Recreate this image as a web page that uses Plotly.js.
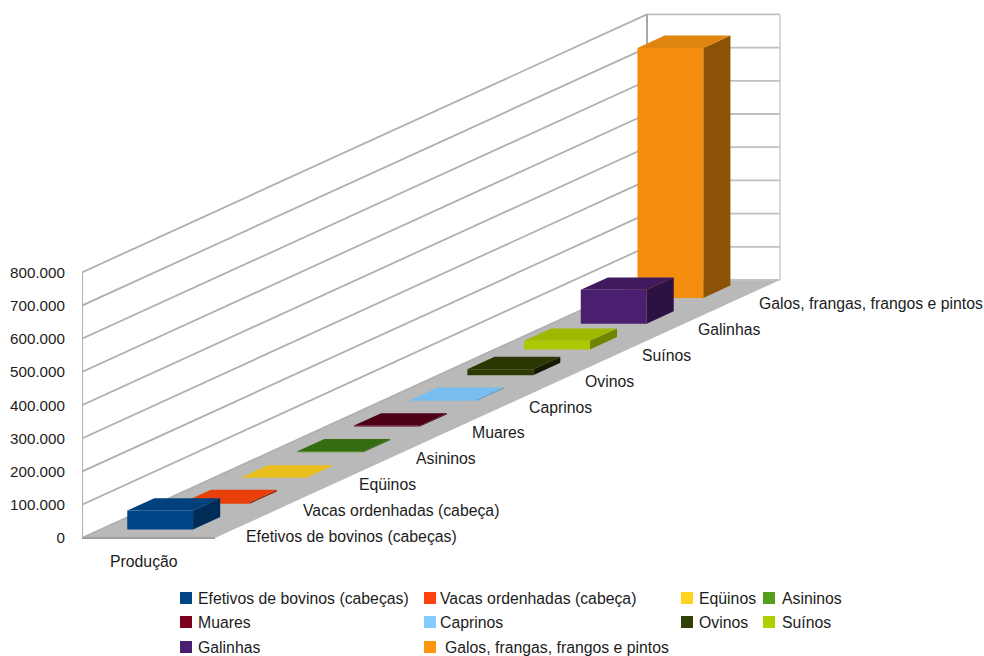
<!DOCTYPE html>
<html>
<head>
<meta charset="utf-8">
<script src="https://cdn.plot.ly/plotly-3.0.1.min.js"></script>
<style>html,body{margin:0;padding:0;background:#fff}#chart{width:984px;height:656px}</style>
</head>
<body>
<div id="chart"></div>
<script>
// Rebanhos por tipo: colunas em pseudo-3D desenhadas sobre eixos cartesianos.
const categories = ['Efetivos de bovinos (cabeças)', 'Vacas ordenhadas (cabeça)', 'Eqüinos', 'Asininos', 'Muares',
  'Caprinos', 'Ovinos', 'Suínos', 'Galinhas', 'Galos, frangas, frangos e pintos'];
const values = [57000, 5000, 1000, 3000, 3000, 3000, 18000, 26000, 102000, 753000];
const frontColors = ['#004586', '#e83f0b', '#e8bf1c', '#4a8a18', '#6a001c', '#78bdf0', '#2d3a04', '#aec800', '#4b1f6f', '#f48d0d'];
const topColors = ['#00407c', '#e83f0b', '#e8bf1c', '#356c12', '#4c0014', '#78bdf0', '#2b3702', '#a0b800', '#3f1a5f', '#e0850f'];
const sideColors = ['#002c57', '#96290a', '#a08212', '#2c5a0e', '#4c0014', '#4f88b6', '#161c00', '#6f8400', '#2c1242', '#8c5307'];
const legendColors = ['#004586', '#ff420e', '#ffd320', '#579d1c', '#7e0021', '#83caff', '#314004', '#aecf00', '#4b1f6f', '#ff950e'];
const yTicks = [0, 100000, 200000, 300000, 400000, 500000, 600000, 700000, 800000];
const yTickText = ['0', '100.000', '200.000', '300.000', '400.000', '500.000', '600.000', '700.000', '800.000'];
const groupLabel = 'Produção';

// Escala da página: largura e altura do plano, em pixels, e obliquidade da profundidade.
const W = 984, H = 656, left = 82, floorY = 538;
const pxPerU = 133, pxPerV = 33.2 / 100000;
const depthX = 565 / pxPerU, depthY = 258 / pxPerV;
const pxX = p => (p - left) / pxPerU;
const pxY = p => (floorY - p) / pxPerV;
const proj = (u, v, d) => [u + depthX * d, v + depthY * d];

const font = 'Liberation Sans, Arial, sans-serif';
const textColor = '#1c1c1c';
const labelSize = 15.8;
const traces = [];

function polygon(points, color) {
  const xy = points.map(p => proj(p[0], p[1], p[2]));
  traces.push({
    x: xy.map(p => p[0]).concat(xy[0][0]), y: xy.map(p => p[1]).concat(xy[0][1]),
    mode: 'lines', fill: 'toself', fillcolor: color, line: { width: 0, color: color },
    hoverinfo: 'skip', showlegend: false
  });
}
function path(points, color, width) {
  const xy = points.map(p => proj(p[0], p[1], p[2]));
  traces.push({
    x: xy.map(p => p[0]), y: xy.map(p => p[1]), mode: 'lines',
    line: { color: color, width: width }, hoverinfo: 'skip', showlegend: false
  });
}

// Piso e paredes
const wallTop = yTicks[yTicks.length - 1];
polygon([[0, 0, 0], [1, 0, 0], [1, 0, 1], [0, 0, 1]], '#b9b9b9');
yTicks.forEach(v => {
  path([[0, v, 0], [0, v, 1]], '#b0b0b0', 1.8);
  path([[0, v, 1], [1, v, 1]], '#c0c0c0', 1.8);
});
path([[0, 0, 0], [0, wallTop, 0]], '#b0b0b0', 2);
path([[0, 0, 1], [0, wallTop, 1]], '#a8a8a8', 2);
path([[1, 0, 1], [1, wallTop, 1]], '#cccccc', 1.5);
path([[0, 0, 0], [1, 0, 0]], '#a0a0a0', 2);

// Colunas, do fundo para a frente
const slotDepth = 0.0997, depthStart = 0.033, barDepth = 0.048, barU = 0.2, barUStep = 0.0027, barWidth = 0.495;
for (let i = categories.length - 1; i >= 0; i--) {
  const d0 = depthStart + slotDepth * i, d1 = d0 + barDepth;
  const u0 = barU + barUStep * i, u1 = u0 + barWidth, v = values[i];
  polygon([[u1, 0, d0], [u1, 0, d1], [u1, v, d1], [u1, v, d0]], sideColors[i]);
  polygon([[u0, v, d0], [u1, v, d0], [u1, v, d1], [u0, v, d1]], topColors[i]);
  polygon([[u0, 0, d0], [u1, 0, d0], [u1, v, d0], [u0, v, d0]], frontColors[i]);
}

// Rótulos das categorias ao longo da borda direita do piso
const annotations = categories.map((c, i) => {
  const p = proj(1, 0, (i + 0.5) / categories.length);
  return {
    x: p[0], y: p[1], xref: 'x', yref: 'y', text: c, showarrow: false,
    xanchor: 'left', yanchor: 'middle', xshift: i === categories.length - 1 ? 5 : 1, yshift: -11,
    font: { family: font, size: labelSize, color: textColor }
  };
});
annotations.push({
  x: pxX(144), y: pxY(561), xref: 'x', yref: 'y', text: groupLabel, showarrow: false,
  xanchor: 'center', yanchor: 'middle', font: { family: font, size: labelSize, color: textColor }
});

// Legenda em três linhas com colunas de larguras diferentes
const legendSlots = [[0, 0], [1, 0], [2, 0], [3, 0], [0, 1], [1, 1], [2, 1], [3, 1], [0, 2], [1, 2]];
const legendSwatchX = [186, 430, 687, 769];
const legendTextX = [196, 438, 697, 780];
const legendRowY = [598, 622, 647];
traces.push({
  x: legendSlots.map(s => pxX(legendSwatchX[s[0]])),
  y: legendSlots.map(s => pxY(legendRowY[s[1]])),
  mode: 'markers', marker: { symbol: 'square', size: 12, color: legendColors, line: { width: 0 } },
  hoverinfo: 'skip', showlegend: false
});
categories.forEach((c, i) => {
  const s = legendSlots[i];
  annotations.push({
    x: pxX(legendTextX[s[0]] + (i === 9 ? 5 : 0)), y: pxY(legendRowY[s[1]] + 0.5), xref: 'x', yref: 'y', text: c,
    showarrow: false, xanchor: 'left', yanchor: 'middle',
    font: { family: font, size: labelSize, color: textColor }
  });
});

Plotly.newPlot('chart', traces, {
  width: W, height: H, showlegend: false,
  paper_bgcolor: '#fff', plot_bgcolor: '#fff',
  margin: { l: left, r: 0, t: 0, b: 0, pad: 0 },
  xaxis: { range: [0, pxX(W)], visible: false, fixedrange: true },
  yaxis: {
    range: [pxY(H), pxY(0)], tickmode: 'array', tickvals: yTicks, ticktext: yTickText,
    showgrid: false, zeroline: false, showline: false, ticks: 'outside', ticklen: 13,
    tickcolor: 'rgba(0,0,0,0)', tickfont: { family: font, size: 15.2, color: textColor }, fixedrange: true
  },
  annotations: annotations
}, { displayModeBar: false, staticPlot: true });
</script>
</body>
</html>
